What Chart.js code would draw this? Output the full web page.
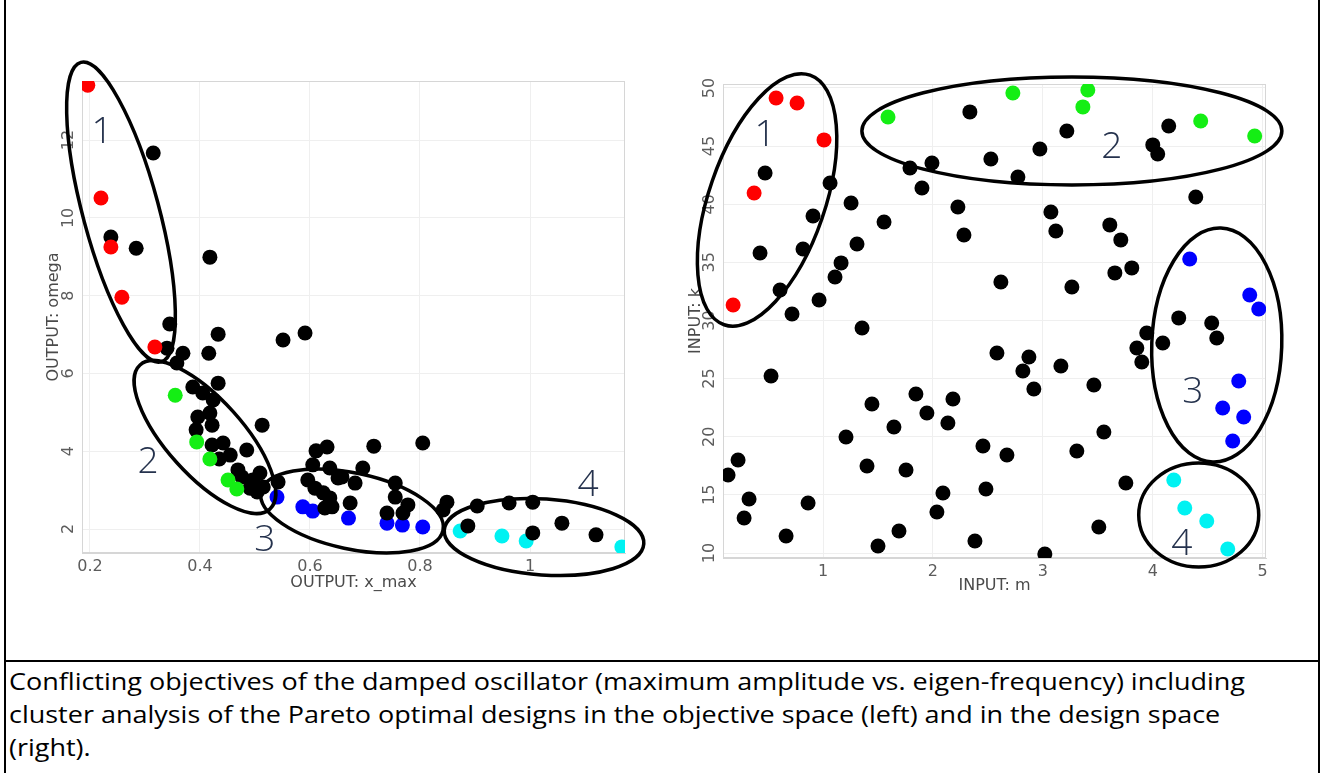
<!DOCTYPE html>
<html><head><meta charset="utf-8">
<script src="https://cdn.jsdelivr.net/npm/chart.js@4.4.1/dist/chart.umd.min.js"></script>
<style>
html,body{margin:0;padding:0;background:#fff;width:1322px;height:773px;overflow:hidden;position:relative}
#cL{position:absolute;left:0;top:0}
#cR{position:absolute;left:660px;top:0}
.vl{position:absolute;top:0;width:2px;height:773px;background:#000}
#hl{position:absolute;left:4px;width:1316px;top:660px;height:2px;background:#000}
#cap{position:absolute;left:9px;top:665px;line-height:33px;font-family:"Open Sans";color:#000;white-space:nowrap;transform-origin:0 0}
</style></head><body>
<div class="vl" style="left:4px"></div><div class="vl" style="left:1318px"></div><div id="hl"></div>
<canvas id="cL" width="660" height="610"></canvas>
<canvas id="cR" width="650" height="610"></canvas>
<div id="cap"></div>
<script>
// ---------- Objective space (left): x = OUTPUT: x_max, y = OUTPUT: omega ----------
const objXTicks = [0.2, 0.4, 0.6, 0.8, 1];
const objYTicks = [2, 4, 6, 8, 10, 12];
const objRed = [[0.196,13.41],[0.22,10.51],[0.238,9.25],[0.258,7.96],[0.318,6.68]];
const objGreen = [[0.355,5.44],[0.394,4.24],[0.418,3.8],[0.451,3.26],[0.467,3.03]];
const objBlue = [[0.54,2.82],[0.587,2.57],[0.605,2.46],[0.67,2.28],[0.74,2.15],[0.768,2.1],[0.805,2.05]];
const objCyan = [[0.873,1.95],[0.949,1.82],[0.993,1.69],[1.167,1.54]];
const objBlack = [
 [0.315,11.67],[0.238,9.51],[0.284,9.22],[0.418,8.99],[0.345,7.27],[0.433,7.01],[0.551,6.86],[0.591,7.04],
 [0.34,6.65],[0.369,6.52],[0.358,6.27],[0.416,6.52],[0.387,5.65],[0.405,5.5],[0.433,5.75],[0.424,5.32],
 [0.396,4.88],[0.418,4.98],[0.422,4.67],[0.393,4.55],[0.513,4.67],[0.422,4.16],[0.442,4.21],[0.485,4.03],
 [0.435,3.8],[0.455,3.9],[0.469,3.52],[0.476,3.34],[0.496,3.26],[0.509,3.44],[0.491,3.05],[0.515,3.08],
 [0.542,3.21],[0.504,2.95],
 [0.611,4.01],[0.631,4.11],[0.716,4.13],[0.805,4.21],[0.605,3.65],[0.636,3.57],[0.696,3.57],[0.596,3.26],
 [0.651,3.31],[0.682,3.18],[0.609,3.05],[0.624,2.93],[0.636,2.8],[0.64,2.57],[0.627,2.54],[0.673,2.67],
 [0.755,3.18],[0.755,2.82],[0.778,2.62],[0.74,2.41],[0.769,2.41],[0.849,2.69],[0.842,2.49],[0.658,3.34],
 [0.904,2.59],[0.962,2.67],[1.005,2.69],[0.887,2.08],[1.005,1.9],[1.058,2.15],[1.12,1.85]
];

// ---------- Design space (right): x = INPUT: m, y = INPUT: k ----------
const desXTicks = [1, 2, 3, 4, 5];
const desYTicks = [10, 15, 20, 25, 30, 35, 40, 45, 50];
const desRed = [[0.573,49.14],[0.764,48.71],[1.009,45.53],[0.373,40.97],[0.182,31.33]];
const desGreen = [[1.591,47.5],[2.727,49.57],[3.409,49.83],[3.364,48.37],[4.436,47.16],[4.927,45.87]];
const desBlue = [[4.336,35.29],[4.882,32.19],[4.964,30.99],[4.782,24.8],[4.636,22.47],[4.827,21.7],[4.727,19.63]];
const desCyan = [[4.191,16.28],[4.291,13.87],[4.491,12.75],[4.682,10.34]];
const desBlack = [
 [0.473,42.69],[1.064,41.83],[0.909,38.99],[0.427,35.81],[0.818,36.15],[0.609,32.62],[1.255,40.11],[1.555,38.47],
 [1.309,36.58],[1.164,34.95],[1.109,33.74],[0.964,31.76],[0.718,30.56],[1.355,29.35],[1.791,43.12],[1.991,43.55],
 [1.9,41.4],[2.227,39.76],[2.282,37.35],[2.336,47.94],[2.527,43.89],[2.618,33.31],[3.218,46.3],[2.973,44.75],
 [2.773,42.34],[4.145,46.73],[4.0,45.1],[4.045,44.32],[4.391,40.62],[3.073,39.33],[3.118,37.7],[3.609,38.22],
 [3.709,36.93],[3.655,34.09],[3.809,34.52],[3.264,32.88],[4.236,30.22],[4.536,29.78],[4.582,28.49],[3.945,28.92],
 [4.091,28.06],[3.855,27.63],[3.9,26.43],[2.582,27.2],[2.873,26.86],[2.818,25.66],[2.918,24.11],[3.164,26.09],
 [3.464,24.45],[3.555,20.41],[3.309,18.77],[2.455,19.2],[2.673,18.43],[2.482,15.5],[3.755,16.02],[3.509,12.24],
 [3.018,9.91],[2.382,11.03],[0.527,25.23],[1.445,22.82],[1.209,19.98],[1.645,20.84],[1.845,23.68],[1.945,22.04],
 [2.182,23.25],[2.136,21.18],[0.227,18.0],[0.136,16.71],[0.327,14.65],[0.282,13.01],[0.864,14.3],[0.664,11.46],
 [1.4,17.48],[1.755,17.14],[1.5,10.6],[1.691,11.89],[2.091,15.16],[2.036,13.53]
];

// ---------- Cluster annotations (centre in data units; radii in px; rotation in deg) ----------
const objEllipses = [
 {cx:0.2564, cy:10.15, a:155, b:38, rot:75},
 {cx:0.409, cy:4.365, a:97, b:38, rot:48},
 {cx:0.6764, cy:2.463, a:93, b:38, rot:12},
 {cx:1.0255, cy:1.794, a:100, b:38, rot:4}
];
const objLabels = [{t:'1',x:0.2218,y:12.26},{t:'2',x:0.3055,y:3.774},{t:'3',x:0.518,y:1.77},{t:'4',x:1.1055,y:3.18}];
const desEllipses = [
 {cx:0.491, cy:40.37, a:132, b:58, rot:109},
 {cx:3.264, cy:46.3, a:210, b:54, rot:0},
 {cx:4.582, cy:27.89, a:117, b:65, rot:92},
 {cx:4.418, cy:13.27, a:60, b:52, rot:0}
];
const desLabels = [{t:'1',x:0.4727,y:46.13},{t:'2',x:3.627,y:45.1},{t:'3',x:4.364,y:24.02},{t:'4',x:4.264,y:10.95}];

const COLORS = {red:'#ff0000', green:'#14ee14', black:'#000000', cyan:'#00f2f2', blue:'#0000ff'};

function ds(pairs, color){
  return {data: pairs.map(p=>({x:p[0], y:p[1]})), backgroundColor: color, borderWidth:0,
          pointRadius:7.5, pointHoverRadius:7.5, pointBorderWidth:0, clip:0};
}

function makeDeco(ellipses, labels){
  return {
    id:'deco',
    beforeDatasetsDraw(chart){
      const {ctx, chartArea:a} = chart;
      ctx.save(); ctx.strokeStyle='#d6d6d6'; ctx.lineWidth=1;
      ctx.strokeRect(a.left+0.5, a.top+0.5, a.width-1, a.height-1);
      ctx.restore();
    },
    afterDatasetsDraw(chart){
      const {ctx} = chart; const xs = chart.scales.x, ys = chart.scales.y;
      ctx.save();
      ctx.strokeStyle='#000'; ctx.lineWidth=3.5;
      for(const e of ellipses){
        ctx.beginPath();
        ctx.ellipse(xs.getPixelForValue(e.cx), ys.getPixelForValue(e.cy), e.a, e.b, e.rot*Math.PI/180, 0, 2*Math.PI);
        ctx.stroke();
      }
      ctx.fillStyle='#25324d'; ctx.font='300 37px "Open Sans"'; ctx.textAlign='center'; ctx.textBaseline='alphabetic';
      for(const l of labels){
        ctx.fillText(l.t, xs.getPixelForValue(l.x), ys.getPixelForValue(l.y)+13);
      }
      ctx.restore();
    }
  };
}

function axes(o){
  const tickFont = {family:'DejaVu Sans', size:16};
  const titleFont = {family:'DejaVu Sans', size:16};
  return {
    x:{type:'linear', min:o.xmin, max:o.xmax,
       afterBuildTicks:s=>{ s.ticks = o.xticks.map(v=>({value:v})); },
       afterFit:s=>{ s.height = 40; },
       grid:{color:'#efefef', drawTicks:false},
       border:{color:'#d6d6d6'},
       ticks:{padding:4, color:'#5c5c5c', font:tickFont, autoSkip:false, maxRotation:0, callback:v=>String(v)},
       title:{display:true, text:o.xtitle, color:'#4a4a4a', font:titleFont, padding:{top:0, bottom:o.xtpad}}
    },
    y:{type:'linear', min:o.ymin, max:o.ymax,
       afterBuildTicks:s=>{ s.ticks = o.yticks.map(v=>({value:v})); },
       afterFit:s=>{ s.width = o.yw; },
       grid:{color:'#efefef', drawTicks:false},
       border:{color:'#d6d6d6'},
       ticks:{padding:o.ytickpad, color:'#5c5c5c', font:tickFont, autoSkip:false, minRotation:90, maxRotation:90, crossAlign:'center', callback:v=>String(v)},
       title:{display:true, text:o.ytitle, color:'#4a4a4a', font:titleFont, padding:{top:o.ytpad, bottom:0}}
    }
  };
}

function makeChart(id, sets, scaleOpts, pad, ellipses, labels){
  return new Chart(document.getElementById(id), {
    type:'scatter',
    data:{datasets:[
      ds(sets.red, COLORS.red), ds(sets.green, COLORS.green), ds(sets.black, COLORS.black),
      ds(sets.cyan, COLORS.cyan), ds(sets.blue, COLORS.blue)
    ]},
    options:{
      responsive:false, animation:false, devicePixelRatio:1,
      layout:{padding:pad},
      plugins:{legend:{display:false}, tooltip:{enabled:false}},
      scales:axes(scaleOpts)
    },
    plugins:[makeDeco(ellipses, labels)]
  });
}

makeChart('cL', {red:objRed, green:objGreen, black:objBlack, cyan:objCyan, blue:objBlue},
  {xmin:0.1855, xmax:1.1727, ymin:1.383, ymax:13.52, xticks:objXTicks, yticks:objYTicks,
   xtitle:'OUTPUT: x_max', ytitle:'OUTPUT: omega', yw:82, ytickpad:3, ytpad:44, xtpad:1},
  {left:0, top:81, right:35, bottom:17}, objEllipses, objLabels);

makeChart('cR', {red:desRed, green:desGreen, black:desBlack, cyan:desCyan, blue:desBlue},
  {xmin:0.09, xmax:5.03, ymin:9.57, ymax:50.34, xticks:desXTicks, yticks:desYTicks,
   xtitle:'INPUT: m', ytitle:'INPUT: k', yw:63, ytickpad:2.5, ytpad:26, xtpad:3},
  {left:0, top:84, right:44, bottom:12}, desEllipses, desLabels);

// ---------- Caption ----------
const capLines = [
 'Conflicting objectives of the damped oscillator (maximum amplitude vs. eigen-frequency) including',
 'cluster analysis of the Pareto optimal designs in the objective space (left) and in the design space',
 '(right).'
];
(function(){
  const cap = document.getElementById('cap');
  const size = 23;
  const mctx = document.createElement('canvas').getContext('2d');
  mctx.font = size + 'px "Open Sans"';
  const w = mctx.measureText(capLines[0]).width;
  cap.style.fontSize = size + 'px';
  cap.style.transform = 'scaleX(' + (1236 / w).toFixed(4) + ')';
  capLines.forEach(t=>{ const d=document.createElement('div'); d.textContent=t; cap.appendChild(d); });
})();
</script></body></html>
